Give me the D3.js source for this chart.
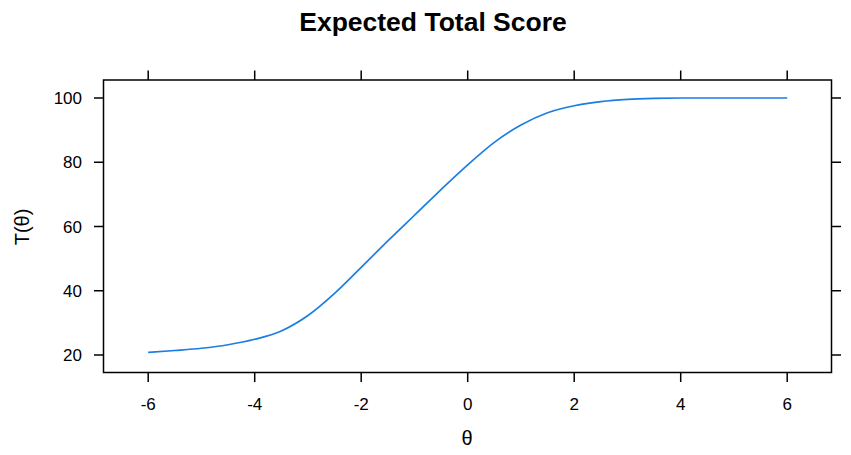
<!DOCTYPE html>
<html><head><meta charset="utf-8">
<script src="https://cdn.jsdelivr.net/npm/d3@7"></script>
<style>body{margin:0;background:#fff}svg{display:block}text{font-family:"Liberation Sans",Arial,sans-serif;fill:#000}</style>
</head><body>
<svg id="c" width="851" height="455"></svg>
<script>
const theta = [-6,-5.5,-5,-4.5,-4,-3.5,-3,-2.5,-2,-1.5,-1,-0.5,0,0.5,1,1.5,2,2.5,3,3.5,4,4.5,5,5.5,6];
const score = [20.8,21.4,22.1,23.2,24.9,27.5,32.3,39.2,47.3,55.5,63.5,71.5,79.2,86.2,91.6,95.4,97.6,98.9,99.6,99.9,100,100,100,100,100];
const xTicks = [-6,-4,-2,0,2,4,6];
const yTicks = [20,40,60,80,100];
const title = "Expected Total Score";
const xLabel = "θ";
const yLabel = "T(θ)";

const svg = d3.select("#c");
const L = 103.5, R = 831.5, T = 80, B = 372.5;
const x = d3.scaleLinear().domain([-6,6]).range([148.2,787.2]);
const y = d3.scaleLinear().domain([20,100]).range([355,98]);
const tk = 9.5;

svg.append("text").attr("x",433).attr("y",31).attr("text-anchor","middle")
  .style("font-weight","bold").style("font-size","26.5px").text(title);

const g = svg.append("g").attr("stroke","#000").attr("stroke-width",1.5);
xTicks.forEach(t=>{
  g.append("line").attr("x1",x(t)).attr("x2",x(t)).attr("y1",B).attr("y2",B+tk);
  g.append("line").attr("x1",x(t)).attr("x2",x(t)).attr("y1",T).attr("y2",T-tk);
});
yTicks.forEach(t=>{
  g.append("line").attr("x1",L).attr("x2",L-tk).attr("y1",y(t)).attr("y2",y(t));
  g.append("line").attr("x1",R).attr("x2",R+tk).attr("y1",y(t)).attr("y2",y(t));
});
g.append("rect").attr("x",L).attr("y",T).attr("width",R-L).attr("height",B-T).attr("fill","none");

xTicks.forEach(t=>{
  svg.append("text").attr("x",x(t)).attr("y",410).attr("text-anchor","middle")
    .style("font-size","17px").text(t<0?"-"+Math.abs(t):t);
});
yTicks.forEach(t=>{
  svg.append("text").attr("x",82).attr("y",y(t)+6).attr("text-anchor","end")
    .style("font-size","17px").text(t);
});

svg.append("text").attr("x",467).attr("y",445).attr("text-anchor","middle")
  .style("font-size","20px").text(xLabel);
svg.append("text").attr("transform","translate(29,227) rotate(-90)").attr("text-anchor","middle")
  .style("font-size","20px").text(yLabel);

const line = d3.line().x((d,i)=>x(theta[i])).y(d=>y(d)).curve(d3.curveMonotoneX);
svg.append("path").attr("d",line(score)).attr("fill","none")
  .attr("stroke","#1a7ee2").attr("stroke-width",1.7);
</script>
</body></html>
